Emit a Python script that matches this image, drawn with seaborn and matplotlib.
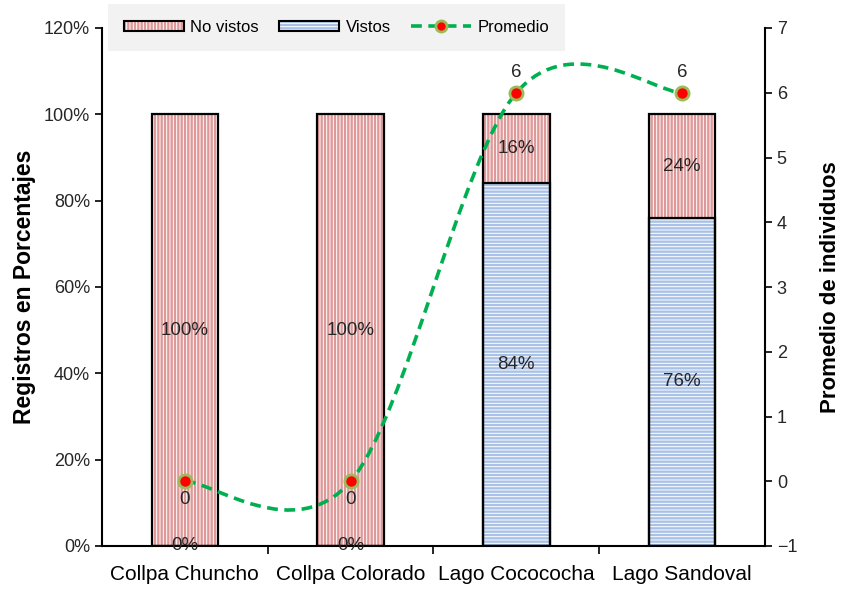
import matplotlib
matplotlib.use("Agg")
import matplotlib.pyplot as plt
import numpy as np
import pandas as pd
import seaborn as sns
from matplotlib.path import Path
from matplotlib.patches import PathPatch, Patch
from matplotlib.lines import Line2D
from matplotlib.ticker import PercentFormatter, FixedLocator

# --- data ---
sitios = ["Collpa Chuncho", "Collpa Colorado", "Lago Cocococha", "Lago Sandoval"]
no_vistos = [1.00, 1.00, 0.16, 0.24]
vistos = [0.00, 0.00, 0.84, 0.76]
promedio = [0, 0, 6, 6]

plt.rcParams["font.family"] = ["Liberation Sans", "DejaVu Sans"]
plt.rcParams["hatch.linewidth"] = 1.7

PINK = "#DF9898"
BLUE = "#A9C1E6"
GREEN = "#00B050"
TXT = "#262626"

df = pd.DataFrame({"sitio": sitios, "no": no_vistos, "vis": vistos, "prom": promedio})
df["total"] = df["no"] + df["vis"]

fig = plt.figure(figsize=(8.45, 5.89), dpi=100)
ax = fig.add_axes([102 / 845, 43 / 589, 663 / 845, 518 / 589])

# stacked bars: full height hatched as "No vistos", lower part overdrawn as "Vistos"
sns.barplot(data=df, x="sitio", y="total", color="white", edgecolor=PINK,
            hatch="|||||", linewidth=0, width=0.4, ax=ax, zorder=2)
sns.barplot(data=df, x="sitio", y="vis", color="white", edgecolor=BLUE,
            hatch="-----", linewidth=0, width=0.4, ax=ax, zorder=2)
# black outlines of the segments
sns.barplot(data=df, x="sitio", y="total", fill=False, color="black",
            linewidth=1.6, width=0.4, ax=ax, zorder=3)
sns.barplot(data=df, x="sitio", y="vis", fill=False, color="black",
            linewidth=1.6, width=0.4, ax=ax, zorder=3)

ax.set_xlim(-0.5, 3.5)
ax.set_ylim(0, 1.2)
ax.yaxis.set_major_locator(FixedLocator(np.arange(0, 1.21, 0.2)))
ax.yaxis.set_major_formatter(PercentFormatter(1.0, decimals=0))
ax.set_xlabel("")
ax.set_ylabel("Registros en Porcentajes", fontsize=16.5, fontweight="bold", labelpad=6)
ax.tick_params(axis="y", labelsize=13, length=5, width=1.2, direction="out",
               color="black", labelcolor=TXT)
ax.tick_params(axis="x", which="major", labelsize=15, length=0, pad=14, labelcolor="black")
ax.set_xticks([0.5, 1.5, 2.5], minor=True)
ax.tick_params(axis="x", which="minor", length=6, width=1.2, direction="out")
for s in ["left", "bottom"]:
    ax.spines[s].set_linewidth(1.5)
    ax.spines[s].set_color("black")
for s in ["top", "right"]:
    ax.spines[s].set_visible(False)

# segment value labels
for i, (n, v) in enumerate(zip(no_vistos, vistos)):
    ax.text(i, v / 2, f"{v * 100:.0f}%", ha="center", va="center", fontsize=13.5,
            color=TXT, zorder=5)
    ax.text(i, v + n / 2, f"{n * 100:.0f}%", ha="center", va="center", fontsize=13.5,
            color=TXT, zorder=5)

# secondary axis: average individuals, smoothed line
ax2 = ax.twinx()
ax2.set_ylim(-1, 7)
ax2.set_yticks(range(-1, 8))
ax2.tick_params(axis="y", labelsize=13, length=5, width=1.2, direction="out",
                color="black", labelcolor=TXT)
ax2.set_ylabel("Promedio de individuos", fontsize=16, fontweight="bold", labelpad=16)
for s in ["top", "left", "bottom"]:
    ax2.spines[s].set_visible(False)
ax2.spines["right"].set_linewidth(1.5)

xs = np.arange(len(promedio), dtype=float)
ys = np.asarray(promedio, dtype=float)
pts = np.column_stack([xs, ys])
verts = [pts[0]]
codes = [Path.MOVETO]
n = len(pts)
for i in range(n - 1):
    p_prev = pts[i - 1] if i > 0 else pts[i]
    p_next2 = pts[i + 2] if i + 2 < n else pts[i + 1]
    c1 = pts[i] + (pts[i + 1] - p_prev) / 6
    c2 = pts[i + 1] - (p_next2 - pts[i]) / 6
    verts += [c1, c2, pts[i + 1]]
    codes += [Path.CURVE4] * 3
curve = PathPatch(Path(verts, codes), facecolor="none", edgecolor=GREEN,
                  linewidth=2.6, linestyle=(0, (3, 1.8)), zorder=4, capstyle="butt")
ax2.add_patch(curve)
sns.scatterplot(x=xs, y=ys, ax=ax2, s=90, color="#FF0000", edgecolor="#9BBB59",
                linewidth=2, zorder=6, legend=False)
for x, y in zip(xs, ys):
    if y > 0:
        ax2.text(x, y + 0.18, f"{y:.0f}", ha="center", va="bottom", fontsize=13.5, color=TXT)
    else:
        ax2.text(x, y - 0.15, f"{y:.0f}", ha="center", va="top", fontsize=13.5, color=TXT)

# legend
h_no = (Patch(facecolor="white", edgecolor=PINK, hatch="|||||", linewidth=0),
        Patch(facecolor="none", edgecolor="black", linewidth=1.5))
h_vi = (Patch(facecolor="white", edgecolor=BLUE, hatch="-----", linewidth=0),
        Patch(facecolor="none", edgecolor="black", linewidth=1.5))
h_pr = Line2D([], [], color=GREEN, linewidth=2.6, linestyle=(0, (3, 1.8)), marker="o",
              markersize=8, markerfacecolor="#FF0000", markeredgecolor="#9BBB59",
              markeredgewidth=2)
leg = fig.legend([h_no, h_vi, h_pr], ["No vistos", "Vistos", "Promedio"],
                 loc="upper left", bbox_to_anchor=(108 / 845, 1 - 4 / 589), ncol=3,
                 fontsize=12, frameon=True, facecolor="#F2F2F2", edgecolor="none",
                 fancybox=False, framealpha=1, handlelength=3.6, handleheight=0.6,
                 handletextpad=0.4, columnspacing=1.2, borderpad=0.95,
                 borderaxespad=0)

fig.savefig("out.png", dpi=100)
